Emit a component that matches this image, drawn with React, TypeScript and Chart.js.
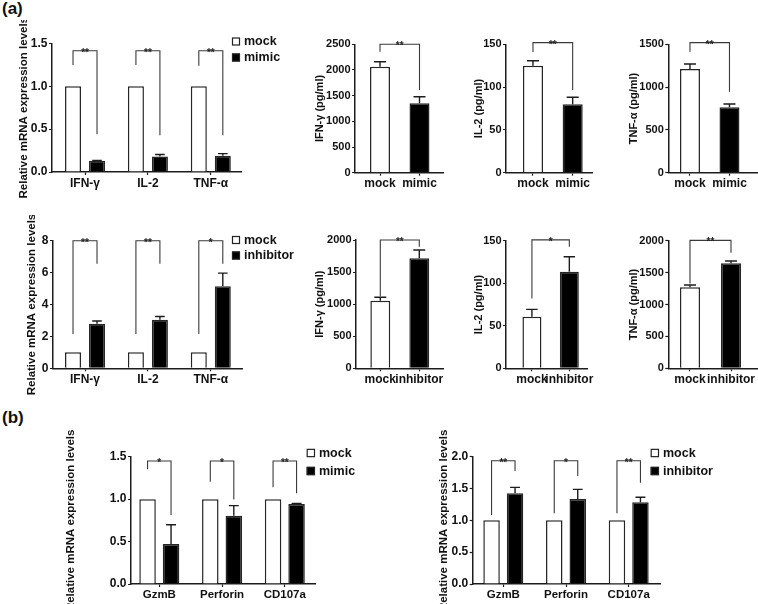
import React, { useEffect, useRef } from 'react';
import { Chart, registerables } from 'chart.js';

Chart.register(...registerables);

const FAMILY = "'Liberation Sans', Arial, Helvetica, sans-serif";

// ---------------- data ----------------
const cytokines = ['IFN-γ', 'IL-2', 'TNF-α'];
const effectors = ['GzmB', 'Perforin', 'CD107a'];
const mimicPair = ['mock', 'mimic'];
const inhibitorPair = ['mock', 'inhibitor'];

// (a) row 1: mRNA, mock vs mimic
const mrnaMimicMock = [1, 1, 1];
const mrnaMimicValues = [0.13, 0.18, 0.19];
const mrnaMimicErr = [0.005, 0.025, 0.025];
const mrnaMimicBrLeft = [1.25, 1.25, 1.24];
const mrnaMimicBrTop = [1.415, 1.415, 1.415];
const mrnaMimicBrRight = [0.44, 0.43, 0.43];
const mrnaMimicStars = ['**', '**', '**'];

// (a) row 1: protein (pg/ml), mock vs mimic
const ifnMimicValues = [2064, 1351];
const ifnMimicErr = [97, 129];
const ifnMimicBracket = [2356, 2500, 1610];
const il2MimicValues = [125, 80];
const il2MimicErr = [5.8, 8.2];
const il2MimicBracket = [141, 152, 96.6];
const tnfMimicValues = [1212, 764];
const tnfMimicErr = [58, 39];
const tnfMimicBracket = [1414, 1519, 947];

// (a) row 2: mRNA, mock vs inhibitor
const mrnaInhMock = [1, 1, 1];
const mrnaInhValues = [2.79, 3.04, 5.15];
const mrnaInhErr = [0.18, 0.21, 0.82];
const mrnaInhBrLeft = [2.15, 2.15, 2.15];
const mrnaInhBrTop = [8, 8, 8];
const mrnaInhBrRight = [6.56, 6.56, 6.56];
const mrnaInhStars = ['**', '**', '*'];

// (a) row 2: protein (pg/ml), mock vs inhibitor
const ifnInhValues = [1054, 1715];
const ifnInhErr = [53, 129];
const ifnInhBracket = [1125, 2000, 1896];
const il2InhValues = [60.6, 113.6];
const il2InhErr = [8.7, 17.6];
const il2InhBracket = [82.2, 151, 143];
const tnfInhValues = [1269, 1645];
const tnfInhErr = [36, 36];
const tnfInhBracket = [1330, 2005, 1812];

// (b) left: mock vs mimic
const effMimicMock = [1, 1, 1];
const effMimicValues = [0.471, 0.805, 0.942];
const effMimicErr = [0.228, 0.118, 0.008];
const effMimicBrLeft = [1.351, 1.205, 1.139];
const effMimicBrTop = [1.449, 1.449, 1.449];
const effMimicBrRight = [0.813, 0.997, 1.068];
const effMimicStars = ['*', '*', '**'];

// (b) right: mock vs inhibitor
const effInhMock = [1, 1, 1];
const effInhValues = [1.424, 1.335, 1.283];
const effInhErr = [0.094, 0.152, 0.079];
const effInhBrLeft = [1.084, 1.11, 1.11];
const effInhBrTop = [1.937, 1.937, 1.937];
const effInhBrRight = [1.775, 1.696, 1.592];
const effInhStars = ['**', '*', '**'];

// ---------------- types ----------------
type Series = { label: string; values: number[]; errors: number[]; fill: string | string[] };
type Bracket = { left: number[]; top: number[]; right: number[]; stars: string[] };
type Panel = {
  id: string;
  box: number[]; // L, T, W, H (page px)
  area: number[]; // x0, yTop, x1, yBottom (page px)
  xMin: number;
  xMax: number;
  yMax: number;
  yStep: number;
  yDecimals: number;
  title: string;
  titlePad: number;
  labels: string[];
  series: Series[];
  grouped: boolean;
  catPct: number;
  barPct: number;
  bracket: Bracket;
  legend?: { x: number; y: number; gap: number; labels: string[]; size: number };
  tickSize: number;
  titleSize: number;
  labelSize: number;
};

const single = (v: number[], e: number[], pair: string[]): Series[] => [
  { label: pair.join('/'), values: v, errors: e, fill: ['#ffffff', '#000000'] },
];
const grouped = (mock: number[], v: number[], e: number[], name: string): Series[] => [
  { label: 'mock', values: mock, errors: mock.map(() => 0), fill: '#ffffff' },
  { label: name, values: v, errors: e, fill: '#000000' },
];
const oneBracket = (b: number[], stars: string): Bracket => ({
  left: [b[0]],
  top: [b[1]],
  right: [b[2]],
  stars: [stars],
});

const panels: Panel[] = [
  {
    id: 'a1',
    box: [0, 20, 300, 180],
    area: [52, 43.5, 241.7, 172],
    xMin: 0.475,
    xMax: 3.491,
    yMax: 1.5,
    yStep: 0.5,
    yDecimals: 1,
    title: 'Relative mRNA expression levels',
    titlePad: 17,
    labels: cytokines,
    series: grouped(mrnaMimicMock, mrnaMimicValues, mrnaMimicErr, 'mimic'),
    grouped: true,
    catPct: 0.763,
    barPct: 0.667,
    bracket: { left: mrnaMimicBrLeft, top: mrnaMimicBrTop, right: mrnaMimicBrRight, stars: mrnaMimicStars },
    legend: { x: 232, y: 41.5, gap: 16, labels: mimicPair, size: 8 },
    tickSize: 12,
    titleSize: 11.5,
    labelSize: 12,
  },
  {
    id: 'a2',
    box: [300, 20, 150, 180],
    area: [355, 44.3, 443, 172.7],
    xMin: 0.367,
    xMax: 2.595,
    yMax: 2500,
    yStep: 500,
    yDecimals: 0,
    title: 'IFN-γ (pg/ml)',
    titlePad: 13,
    labels: mimicPair,
    series: single(ifnMimicValues, ifnMimicErr, mimicPair),
    grouped: false,
    catPct: 1,
    barPct: 0.506,
    bracket: oneBracket(ifnMimicBracket, '**'),
    tickSize: 11,
    titleSize: 11,
    labelSize: 12,
  },
  {
    id: 'a3',
    box: [455, 20, 140, 180],
    area: [506, 44.3, 592, 172.7],
    xMin: 0.32,
    xMax: 2.487,
    yMax: 150,
    yStep: 50,
    yDecimals: 0,
    title: 'IL-2 (pg/ml)',
    titlePad: 17.5,
    labels: mimicPair,
    series: single(il2MimicValues, il2MimicErr, mimicPair),
    grouped: false,
    catPct: 1,
    barPct: 0.506,
    bracket: oneBracket(il2MimicBracket, '**'),
    tickSize: 11,
    titleSize: 11,
    labelSize: 12,
  },
  {
    id: 'a4',
    box: [600, 20, 158, 180],
    area: [668.3, 44.3, 757, 172.7],
    xMin: 0.451,
    xMax: 2.697,
    yMax: 1500,
    yStep: 500,
    yDecimals: 0,
    title: 'TNF-α (pg/ml)',
    titlePad: 27,
    labels: mimicPair,
    series: single(tnfMimicValues, tnfMimicErr, mimicPair),
    grouped: false,
    catPct: 1,
    barPct: 0.506,
    bracket: oneBracket(tnfMimicBracket, '**'),
    tickSize: 11,
    titleSize: 11,
    labelSize: 12,
  },
  {
    id: 'b1',
    box: [0, 215, 300, 180],
    area: [53, 240.7, 242, 368.3],
    xMin: 0.491,
    xMax: 3.496,
    yMax: 8,
    yStep: 2,
    yDecimals: 0,
    title: 'Relative mRNA expression levels',
    titlePad: 25,
    labels: cytokines,
    series: grouped(mrnaInhMock, mrnaInhValues, mrnaInhErr, 'inhibitor'),
    grouped: true,
    catPct: 0.763,
    barPct: 0.667,
    bracket: { left: mrnaInhBrLeft, top: mrnaInhBrTop, right: mrnaInhBrRight, stars: mrnaInhStars },
    legend: { x: 232, y: 240, gap: 15.5, labels: inhibitorPair, size: 8 },
    tickSize: 12,
    titleSize: 11.5,
    labelSize: 12,
  },
  {
    id: 'b2',
    box: [300, 215, 150, 180],
    area: [356, 240, 443, 368.3],
    xMin: 0.377,
    xMax: 2.608,
    yMax: 2000,
    yStep: 500,
    yDecimals: 0,
    title: 'IFN-γ (pg/ml)',
    titlePad: 13,
    labels: inhibitorPair,
    series: single(ifnInhValues, ifnInhErr, inhibitorPair),
    grouped: false,
    catPct: 1,
    barPct: 0.51,
    bracket: oneBracket(ifnInhBracket, '**'),
    tickSize: 11,
    titleSize: 11,
    labelSize: 12,
  },
  {
    id: 'b3',
    box: [455, 215, 140, 180],
    area: [506, 240.7, 592, 368.3],
    xMin: 0.307,
    xMax: 2.49,
    yMax: 150,
    yStep: 50,
    yDecimals: 0,
    title: 'IL-2 (pg/ml)',
    titlePad: 17.5,
    labels: inhibitorPair,
    series: single(il2InhValues, il2InhErr, inhibitorPair),
    grouped: false,
    catPct: 1,
    barPct: 0.508,
    bracket: oneBracket(il2InhBracket, '*'),
    tickSize: 11,
    titleSize: 11,
    labelSize: 12,
  },
  {
    id: 'b4',
    box: [600, 215, 158, 180],
    area: [668.3, 240.7, 757, 368.3],
    xMin: 0.471,
    xMax: 2.634,
    yMax: 2000,
    yStep: 500,
    yDecimals: 0,
    title: 'TNF-α (pg/ml)',
    titlePad: 27,
    labels: inhibitorPair,
    series: single(tnfInhValues, tnfInhErr, inhibitorPair),
    grouped: false,
    catPct: 1,
    barPct: 0.49,
    bracket: oneBracket(tnfInhBracket, '**'),
    tickSize: 11,
    titleSize: 11,
    labelSize: 12,
  },
  {
    id: 'c1',
    box: [60, 420, 320, 184],
    area: [131, 456.7, 315, 584],
    xMin: 0.549,
    xMax: 3.481,
    yMax: 1.5,
    yStep: 0.5,
    yDecimals: 1,
    title: 'Relative mRNA expression levels',
    titlePad: 4,
    labels: effectors,
    series: grouped(effMimicMock, effMimicValues, effMimicErr, 'mimic'),
    grouped: true,
    catPct: 0.749,
    barPct: 0.702,
    bracket: { left: effMimicBrLeft, top: effMimicBrTop, right: effMimicBrRight, stars: effMimicStars },
    legend: { x: 306.7, y: 453, gap: 18, labels: mimicPair, size: 8.3 },
    tickSize: 12,
    titleSize: 11.5,
    labelSize: 11.5,
  },
  {
    id: 'c2',
    box: [400, 420, 358, 184],
    area: [472.7, 456.7, 660, 584],
    xMin: 0.512,
    xMax: 3.499,
    yMax: 2.0,
    yStep: 0.5,
    yDecimals: 1,
    title: 'Relative mRNA expression levels',
    titlePad: 37,
    labels: effectors,
    series: grouped(effInhMock, effInhValues, effInhErr, 'inhibitor'),
    grouped: true,
    catPct: 0.749,
    barPct: 0.702,
    bracket: { left: effInhBrLeft, top: effInhBrTop, right: effInhBrRight, stars: effInhStars },
    legend: { x: 650.7, y: 453, gap: 18, labels: inhibitorPair, size: 8.3 },
    tickSize: 12,
    titleSize: 11.5,
    labelSize: 11.5,
  },
];

// ---------------- drawing helpers ----------------
const INK = '#1c1c1c';

function annotationPlugin(p: Panel) {
  return {
    id: 'annot_' + p.id,
    afterDatasetsDraw(chart: any) {
      const ctx: CanvasRenderingContext2D = chart.ctx;
      const ys = chart.scales.y;
      ctx.save();
      // error bars (upper only)
      p.series.forEach((s, di) => {
        const meta = chart.getDatasetMeta(di);
        meta.data.forEach((bar: any, i: number) => {
          const e = s.errors[i];
          if (!e) return;
          const yb = ys.getPixelForValue(s.values[i]);
          const yt = ys.getPixelForValue(s.values[i] + e);
          const half = bar.width * 0.3;
          ctx.strokeStyle = INK;
          ctx.lineWidth = 1.4;
          ctx.beginPath();
          ctx.moveTo(bar.x, yb);
          ctx.lineTo(bar.x, yt);
          ctx.moveTo(bar.x - half, yt);
          ctx.lineTo(bar.x + half, yt);
          ctx.stroke();
        });
      });
      // significance brackets
      const b = p.bracket;
      b.top.forEach((topV, i) => {
        let xl: number;
        let xr: number;
        if (p.grouped) {
          xl = chart.getDatasetMeta(0).data[i].x;
          xr = chart.getDatasetMeta(1).data[i].x;
        } else {
          xl = chart.getDatasetMeta(0).data[0].x;
          xr = chart.getDatasetMeta(0).data[1].x;
        }
        const yl = ys.getPixelForValue(b.left[i]);
        const yt = ys.getPixelForValue(topV);
        const yr = ys.getPixelForValue(b.right[i]);
        ctx.strokeStyle = '#3a3a3a';
        ctx.lineWidth = 1.1;
        ctx.beginPath();
        ctx.moveTo(xl, yl);
        ctx.lineTo(xl, yt);
        ctx.lineTo(xr, yt);
        ctx.lineTo(xr, yr);
        ctx.stroke();
        ctx.fillStyle = '#222';
        ctx.font = `bold 10px ${FAMILY}`;
        ctx.textAlign = 'center';
        ctx.textBaseline = 'alphabetic';
        ctx.fillText(b.stars[i], (xl + xr) / 2, yt + 5);
      });
      ctx.restore();
    },
    afterDraw(chart: any) {
      if (!p.legend) return;
      const ctx: CanvasRenderingContext2D = chart.ctx;
      const lg = p.legend;
      const L = p.box[0];
      const T = p.box[1];
      ctx.save();
      lg.labels.forEach((label, i) => {
        const cy = lg.y + i * lg.gap - T;
        const x = lg.x - L;
        const s = lg.size;
        ctx.fillStyle = i === 0 ? '#ffffff' : '#000000';
        ctx.fillRect(x, cy - s / 2, s, s);
        ctx.strokeStyle = '#222';
        ctx.lineWidth = 1.2;
        ctx.strokeRect(x + 0.5, cy - s / 2 + 0.5, s - 1, s - 1);
        ctx.fillStyle = '#111';
        ctx.font = `bold 12.5px ${FAMILY}`;
        ctx.textAlign = 'left';
        ctx.textBaseline = 'middle';
        ctx.fillText(label, x + s + 4, cy + 0.5);
      });
      ctx.restore();
    },
  };
}

function buildConfig(p: Panel): any {
  const [L, T, W, H] = p.box;
  const [x0, yTop, x1, yBottom] = p.area;
  const datasets = p.series.map((s) => ({
    label: s.label,
    data: s.values.map((v, i) => ({ x: i + 1, y: v })),
    backgroundColor: s.fill,
    borderColor: '#262626',
    borderWidth: 1.5,
    categoryPercentage: p.catPct,
    barPercentage: p.barPct,
  }));
  return {
    type: 'bar',
    data: { datasets },
    plugins: [annotationPlugin(p)],
    options: {
      responsive: false,
      animation: false,
      devicePixelRatio: 1,
      layout: { padding: { left: 0, top: yTop - T, right: L + W - x1, bottom: 0 } },
      plugins: { legend: { display: false }, tooltip: { enabled: false }, title: { display: false } },
      scales: {
        x: {
          type: 'linear',
          min: p.xMin,
          max: p.xMax,
          offset: false,
          afterBuildTicks: (ax: any) => {
            ax.ticks = p.labels.map((_, i) => ({ value: i + 1 }));
          },
          afterFit: (ax: any) => {
            ax.height = T + H - yBottom;
          },
          ticks: {
            autoSkip: false,
            maxRotation: 0,
            minRotation: 0,
            padding: 1,
            color: '#111',
            font: { family: FAMILY, size: p.labelSize, weight: 'bold' },
            callback: (v: number) => p.labels[Math.round(v) - 1] ?? '',
          },
          grid: {
            display: true,
            offset: false,
            drawOnChartArea: false,
            drawTicks: true,
            tickLength: 3,
            tickWidth: 1.2,
            tickColor: INK,
          },
          border: { display: true, color: INK, width: 1.5 },
        },
        y: {
          type: 'linear',
          min: 0,
          max: p.yMax,
          afterFit: (ax: any) => {
            ax.width = x0 - L;
          },
          ticks: {
            stepSize: p.yStep,
            padding: 1.5,
            color: '#111',
            font: { family: FAMILY, size: p.tickSize, weight: 'bold' },
            callback: (v: number) => Number(v).toFixed(p.yDecimals),
          },
          grid: {
            display: true,
            drawOnChartArea: false,
            drawTicks: true,
            tickLength: 3,
            tickWidth: 1.2,
            tickColor: INK,
          },
          border: { display: true, color: INK, width: 1.5 },
          title: {
            display: true,
            text: p.title,
            color: '#111',
            font: { family: FAMILY, size: p.titleSize, weight: 'bold' },
            padding: { top: p.titlePad, bottom: 0 },
          },
        },
      },
    },
  };
}

function PanelChart({ p }: { p: Panel }) {
  const ref = useRef<HTMLCanvasElement>(null);
  useEffect(() => {
    if (!ref.current) return;
    const chart = new Chart(ref.current, buildConfig(p));
    return () => chart.destroy();
  }, [p]);
  const [L, T, W, H] = p.box;
  return (
    <canvas
      ref={ref}
      width={W}
      height={H}
      style={{ position: 'absolute', left: L, top: T, width: W, height: H }}
    />
  );
}

const tagStyle: React.CSSProperties = {
  position: 'absolute',
  fontFamily: FAMILY,
  fontWeight: 'bold',
  fontSize: 17,
  color: '#111',
  lineHeight: '20px',
};

export default function App() {
  return (
    <div
      style={{
        position: 'absolute',
        left: 0,
        top: 0,
        width: 758,
        height: 604,
        background: '#ffffff',
        overflow: 'hidden',
      }}
    >
      <div style={{ ...tagStyle, left: 2, top: -1 }}>(a)</div>
      <div style={{ ...tagStyle, left: 2, top: 408 }}>(b)</div>
      {panels.map((p) => (
        <PanelChart key={p.id} p={p} />
      ))}
    </div>
  );
}
